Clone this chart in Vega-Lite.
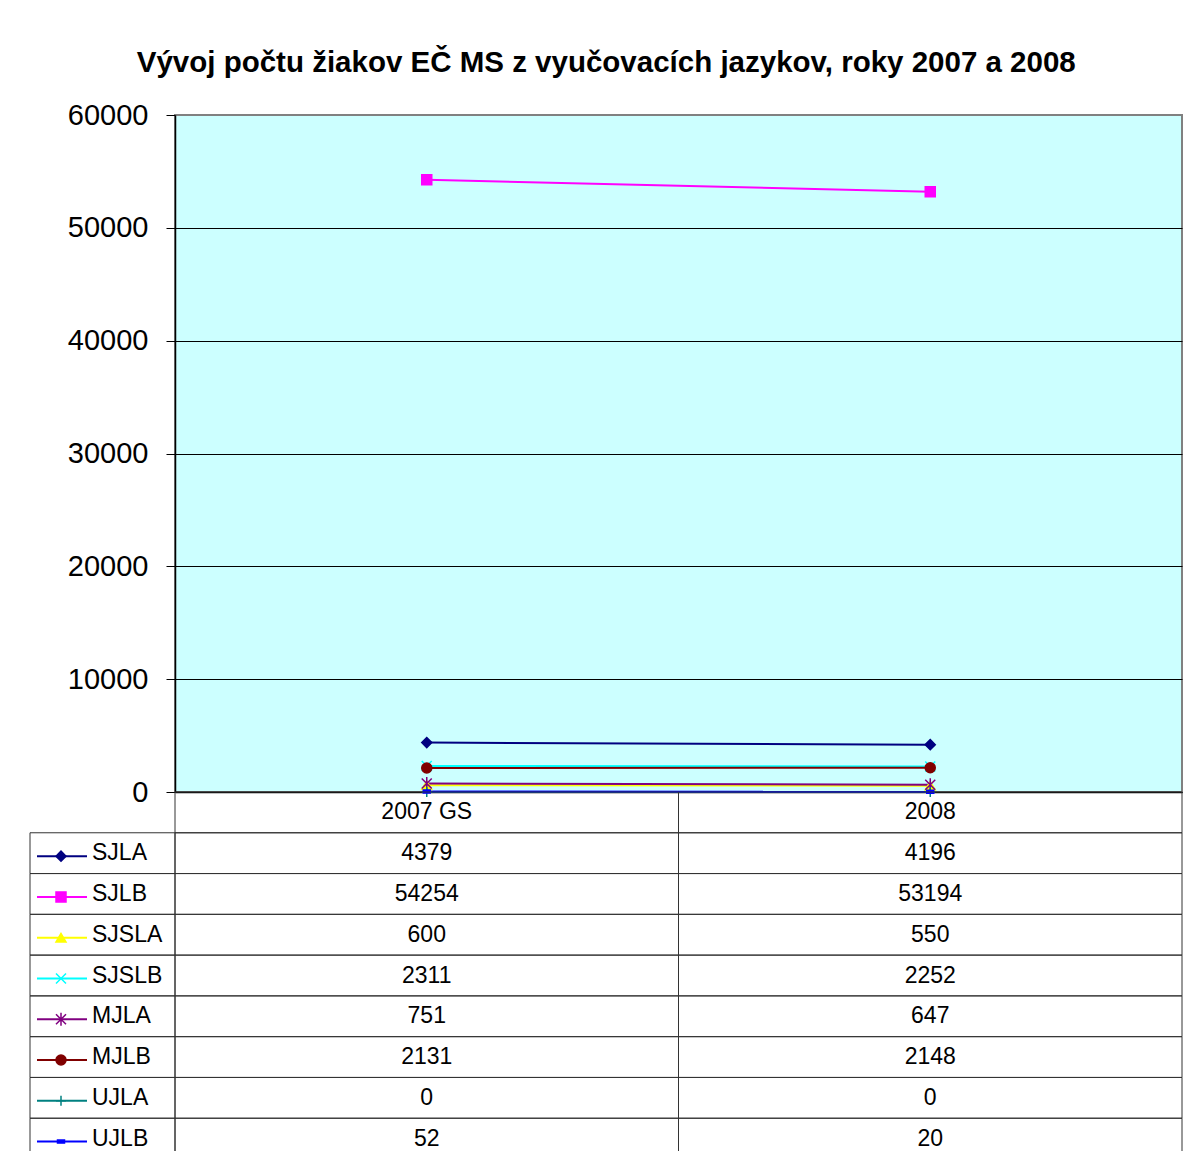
{
  "$schema": "https://vega.github.io/schema/vega-lite/v6.json",
  "padding": {"left": 29, "top": 47, "right": 0, "bottom": 0},
  "background": "white",
  "title": {
    "text": "Vývoj počtu žiakov EČ MS z vyučovacích jazykov, roky 2007 a 2008",
    "font": "Liberation Sans",
    "fontSize": 29.5,
    "fontWeight": "bold",
    "anchor": "middle",
    "color": "#000000",
    "offset": 22
  },
  "datasets": {
    "vals": [
      {"series": "SJLA", "year": "2007 GS", "value": 4379},
      {"series": "SJLA", "year": "2008", "value": 4196},
      {"series": "SJLB", "year": "2007 GS", "value": 54254},
      {"series": "SJLB", "year": "2008", "value": 53194},
      {"series": "SJSLA", "year": "2007 GS", "value": 600},
      {"series": "SJSLA", "year": "2008", "value": 550},
      {"series": "SJSLB", "year": "2007 GS", "value": 2311},
      {"series": "SJSLB", "year": "2008", "value": 2252},
      {"series": "MJLA", "year": "2007 GS", "value": 751},
      {"series": "MJLA", "year": "2008", "value": 647},
      {"series": "MJLB", "year": "2007 GS", "value": 2131},
      {"series": "MJLB", "year": "2008", "value": 2148},
      {"series": "UJLA", "year": "2007 GS", "value": 0},
      {"series": "UJLA", "year": "2008", "value": 0},
      {"series": "UJLB", "year": "2007 GS", "value": 52},
      {"series": "UJLB", "year": "2008", "value": 20}
    ],
    "hdr": [
      {"series": "header", "year": "2007 GS"},
      {"series": "header", "year": "2008"}
    ],
    "keys": [
      {"series": "SJLA"}, {"series": "SJLB"}, {"series": "SJSLA"}, {"series": "SJSLB"},
      {"series": "MJLA"}, {"series": "MJLB"}, {"series": "UJLA"}, {"series": "UJLB"}
    ]
  },
  "columns": 2,
  "spacing": 0,
  "bounds": "flush",
  "align": "each",
  "concat": [
    {
      "width": 145,
      "height": 677,
      "data": {"values": []},
      "mark": "point",
      "encoding": {}
    },
    {
      "width": 1007,
      "height": 677,
      "view": {"fill": "#CCFFFF", "stroke": "#808080", "strokeWidth": 2},
      "data": {"name": "vals"},
      "encoding": {
        "x": {
          "field": "year", "type": "nominal",
          "scale": {"type": "band", "domain": ["2007 GS", "2008"], "paddingInner": 0, "paddingOuter": 0},
          "axis": {"labels": false, "ticks": false, "title": null, "grid": false, "domainColor": "#000000", "domainWidth": 1.5}
        },
        "y": {
          "field": "value", "type": "quantitative",
          "scale": {"domain": [0, 60000], "nice": false},
          "axis": {
            "title": null,
            "values": [0, 10000, 20000, 30000, 40000, 50000, 60000],
            "format": "d",
            "labelFont": "Liberation Sans",
            "labelFontSize": 29,
            "labelColor": "#000000",
            "labelPadding": 18,
            "tickSize": 9,
            "tickColor": "#000000",
            "domainColor": "#000000",
            "domainWidth": 1.5,
            "grid": true,
            "gridColor": {"condition": {"test": "datum.value === 60000", "value": "#808080"}, "value": "#000000"},
            "gridWidth": 1,
            "gridOpacity": 1
          }
        },
        "color": {
          "field": "series", "type": "nominal", "legend": null,
          "scale": {
            "domain": ["SJLA", "SJLB", "SJSLA", "SJSLB", "MJLA", "MJLB", "UJLA", "UJLB"],
            "range": ["#000080", "#FF00FF", "#FFFF00", "#00FFFF", "#800080", "#800000", "#008080", "#0000FF"]
          }
        }
      },
      "layer": [
        {"mark": {"type": "line", "strokeWidth": 2}},
        {
          "mark": {"type": "point", "filled": true, "size": 100, "opacity": 1, "strokeWidth": 1.5},
          "encoding": {
            "shape": {
              "field": "series", "type": "nominal", "legend": null,
              "scale": {
                "domain": ["SJLA", "SJLB", "SJSLA", "SJSLB", "MJLA", "MJLB", "UJLA", "UJLB"],
                "range": ["diamond", "square", "triangle-up", "M-1,-1L1,1M-1,1L1,-1", "M-1,-1L1,1M-1,1L1,-1M0,-1.3L0,1.3", "circle", "M-1,0L1,0M0,-1L0,1", "M-0.7,-0.3L0.7,-0.3L0.7,0.3L-0.7,0.3Z"]
              }
            },
            "stroke": {
              "field": "series", "type": "nominal", "legend": null,
              "scale": {
                "domain": ["SJLA", "SJLB", "SJSLA", "SJSLB", "MJLA", "MJLB", "UJLA", "UJLB"],
                "range": ["#000080", "#FF00FF", "#FFFF00", "#00FFFF", "#800080", "#800000", "#008080", "#0000FF"]
              }
            }
          }
        }
      ]
    },
    {
      "width": 145,
      "height": 367,
      "data": {"name": "keys"},
      "encoding": {
        "y": {
          "field": "series", "type": "nominal",
          "scale": {"type": "band", "domain": ["header", "SJLA", "SJLB", "SJSLA", "SJSLB", "MJLA", "MJLB", "UJLA", "UJLB"], "paddingInner": 0, "paddingOuter": 0},
          "axis": null
        }
      },
      "layer": [
        {"mark": {"type": "rect", "filled": false, "stroke": "#333333", "strokeWidth": 1}},
        {
          "mark": {"type": "rule", "x": 7, "x2": 57, "strokeWidth": 2, "yOffset": 3},
          "encoding": {
            "color": {
              "field": "series", "type": "nominal", "legend": null,
              "scale": {
                "domain": ["SJLA", "SJLB", "SJSLA", "SJSLB", "MJLA", "MJLB", "UJLA", "UJLB"],
                "range": ["#000080", "#FF00FF", "#FFFF00", "#00FFFF", "#800080", "#800000", "#008080", "#0000FF"]
              }
            }
          }
        },
        {
          "mark": {"type": "point", "x": 31, "yOffset": 3, "filled": true, "size": 100, "opacity": 1, "strokeWidth": 1.5},
          "encoding": {
            "color": {
              "field": "series", "type": "nominal", "legend": null,
              "scale": {
                "domain": ["SJLA", "SJLB", "SJSLA", "SJSLB", "MJLA", "MJLB", "UJLA", "UJLB"],
                "range": ["#000080", "#FF00FF", "#FFFF00", "#00FFFF", "#800080", "#800000", "#008080", "#0000FF"]
              }
            },
            "stroke": {
              "field": "series", "type": "nominal", "legend": null,
              "scale": {
                "domain": ["SJLA", "SJLB", "SJSLA", "SJSLB", "MJLA", "MJLB", "UJLA", "UJLB"],
                "range": ["#000080", "#FF00FF", "#FFFF00", "#00FFFF", "#800080", "#800000", "#008080", "#0000FF"]
              }
            },
            "shape": {
              "field": "series", "type": "nominal", "legend": null,
              "scale": {
                "domain": ["SJLA", "SJLB", "SJSLA", "SJSLB", "MJLA", "MJLB", "UJLA", "UJLB"],
                "range": ["diamond", "square", "triangle-up", "M-1,-1L1,1M-1,1L1,-1", "M-1,-1L1,1M-1,1L1,-1M0,-1.3L0,1.3", "circle", "M-1,0L1,0M0,-1L0,1", "M-0.7,-0.3L0.7,-0.3L0.7,0.3L-0.7,0.3Z"]
              }
            }
          }
        },
        {
          "mark": {"type": "text", "x": 62, "align": "left", "baseline": "middle", "font": "Liberation Sans", "fontSize": 23, "color": "#000000"},
          "encoding": {"text": {"field": "series", "type": "nominal"}}
        }
      ]
    },
    {
      "width": 1007,
      "height": 367,
      "encoding": {
        "x": {
          "field": "year", "type": "nominal",
          "scale": {"type": "band", "domain": ["2007 GS", "2008"], "paddingInner": 0, "paddingOuter": 0},
          "axis": null
        },
        "y": {
          "field": "series", "type": "nominal",
          "scale": {"type": "band", "domain": ["header", "SJLA", "SJLB", "SJSLA", "SJSLB", "MJLA", "MJLB", "UJLA", "UJLB"], "paddingInner": 0, "paddingOuter": 0},
          "axis": null
        }
      },
      "layer": [
        {"data": {"name": "vals"}, "mark": {"type": "rect", "filled": false, "stroke": "#333333", "strokeWidth": 1}},
        {"data": {"name": "hdr"}, "mark": {"type": "rect", "filled": false, "stroke": "#333333", "strokeWidth": 1}},
        {
          "data": {"name": "vals"},
          "mark": {"type": "text", "align": "center", "baseline": "middle", "font": "Liberation Sans", "fontSize": 23, "color": "#000000"},
          "encoding": {"text": {"field": "value", "type": "quantitative", "format": "d"}}
        },
        {
          "data": {"name": "hdr"},
          "mark": {"type": "text", "align": "center", "baseline": "middle", "font": "Liberation Sans", "fontSize": 23, "color": "#000000"},
          "encoding": {"text": {"field": "year", "type": "nominal"}}
        }
      ]
    }
  ],
  "config": {
    "view": {"stroke": null},
    "font": "Liberation Sans"
  }
}
